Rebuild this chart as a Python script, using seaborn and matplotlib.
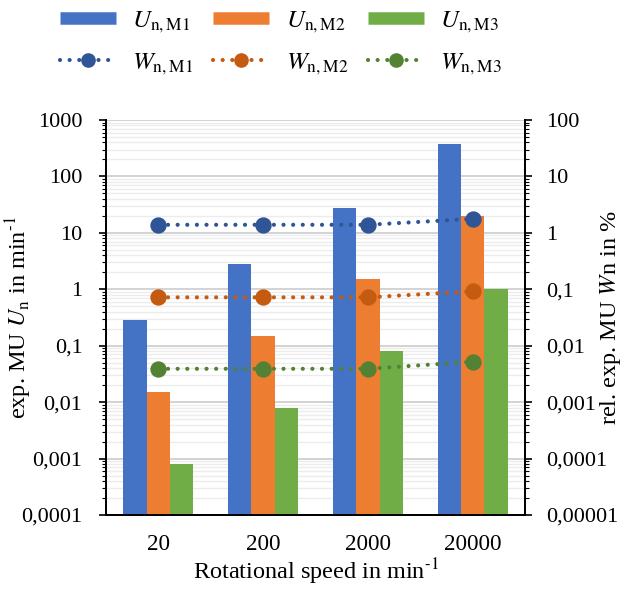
import numpy as np
import pandas as pd
import matplotlib
matplotlib.use("Agg")
import matplotlib.pyplot as plt
from matplotlib.ticker import LogLocator, FuncFormatter, NullFormatter
from matplotlib.lines import Line2D
import seaborn as sns

# ---- data ----
speeds = ["20", "200", "2000", "20000"]
U_M1 = [0.28, 2.8, 28, 370]
U_M2 = [0.015, 0.15, 1.5, 20]
U_M3 = [0.0008, 0.008, 0.08, 1.0]
W_M1 = [1.39, 1.39, 1.39, 1.77]
W_M2 = [0.072, 0.072, 0.072, 0.092]
W_M3 = [0.0039, 0.0039, 0.0039, 0.0052]
u_names = ["U1", "U2", "U3"]
w_names = ["W1", "W2", "W3"]
u_labels = [r"$U_{\mathrm{n,M1}}$", r"$U_{\mathrm{n,M2}}$", r"$U_{\mathrm{n,M3}}$"]
w_labels = [r"$W_{\mathrm{n,M1}}$", r"$W_{\mathrm{n,M2}}$", r"$W_{\mathrm{n,M3}}$"]
bar_colors = ["#4472C4", "#ED7D31", "#70AD47"]
line_colors = ["#2F5597", "#C55A11", "#548235"]

dfu = pd.DataFrame({
    "speed": speeds * 3,
    "value": U_M1 + U_M2 + U_M3,
    "series": sum([[n] * len(speeds) for n in u_names], []),
})
dfw = pd.DataFrame({
    "speed": speeds * 3,
    "value": W_M1 + W_M2 + W_M3,
    "series": sum([[n] * len(speeds) for n in w_names], []),
})

plt.rcParams["font.family"] = ["Liberation Serif", "DejaVu Serif"]
plt.rcParams["mathtext.fontset"] = "stix"

fig = plt.figure(figsize=(6.3, 5.89), dpi=100)
ax = fig.add_axes([106 / 630, 1 - 515 / 589, (525 - 106) / 630, (515 - 120) / 589])
ax.set_yscale("log")
sns.barplot(data=dfu, x="speed", y="value", hue="series", order=speeds,
            hue_order=u_names, palette=bar_colors, width=0.67, ax=ax,
            legend=False, saturation=1, edgecolor="none", linewidth=0)
ax.set_ylim(1e-4, 1e3)
ax.set_xlim(-0.5, len(speeds) - 0.5)

ax2 = ax.twinx()
ax2.set_yscale("log")
sns.pointplot(data=dfw, x="speed", y="value", hue="series", order=speeds,
              hue_order=w_names, palette=line_colors, markers="o",
              linestyles=":", ax=ax2, legend=False, markersize=9.5,
              linewidth=3, errorbar=None)
ax2.set_ylim(1e-5, 1e2)
ax2.set_xlim(-0.5, len(speeds) - 0.5)
dot_style = (0, (0.01, 2.3))
for ln in ax2.lines:
    ln.set_linestyle(dot_style)
    ln.set_dash_capstyle("round")


def fmt(v, pos=None):
    e = int(round(np.log10(v)))
    d = max(0, -e)
    return f"{v:.{d}f}".replace(".", ",")


for a in (ax, ax2):
    a.yaxis.set_major_locator(LogLocator(base=10, numticks=20))
    a.yaxis.set_minor_locator(LogLocator(base=10, subs=np.arange(2, 10), numticks=20))
    a.yaxis.set_major_formatter(FuncFormatter(fmt))
    a.yaxis.set_minor_formatter(NullFormatter())
    a.tick_params(axis="y", which="major", length=5, width=1.2, labelsize=16, color="black")
    a.tick_params(axis="y", which="minor", length=3, width=0.8, color="black")
    a.spines["top"].set_visible(False)
    for s in ("left", "right", "bottom"):
        a.spines[s].set_color("black")
        a.spines[s].set_linewidth(1.3)
    a.set_xlabel("")
    a.set_ylabel("")

ax.tick_params(axis="y", which="major", pad=12)
ax2.tick_params(axis="y", which="major", pad=10)

ax.grid(True, which="major", axis="y", color="#d0d0d0", linewidth=1.3)
ax.grid(True, which="minor", axis="y", color="#ececec", linewidth=1.0)
ax.set_axisbelow(True)
ax.tick_params(axis="x", length=0, labelsize=16.7, pad=14)
ax2.tick_params(axis="x", length=0)

ax.set_xlabel(r"Rotational speed in min$^{\text{-1}}$", fontsize=17.5)
ax.set_ylabel(r"exp. MU $U_{\mathrm{n}}$ in min$^{\text{-1}}$", fontsize=17.5)
ax2.set_ylabel(r"rel. exp. MU $W$n in %", fontsize=17.5)
ax.xaxis.set_label_coords(0.5, (515 - 557) / 395)
ax.yaxis.set_label_coords((34 - 106) / 419, 0.5)
ax2.yaxis.set_label_coords((598 - 106) / 419, 0.5)

handles, labels = [], []
for i in range(3):
    handles.append(Line2D([], [], color=bar_colors[i], linewidth=9, solid_capstyle="butt"))
    labels.append(u_labels[i])
    h = Line2D([], [], color=line_colors[i], linewidth=3, marker="o", markersize=9.5,
               linestyle=dot_style, dash_capstyle="round")
    handles.append(h)
    labels.append(w_labels[i])
fig.legend(handles, labels, ncol=3, loc="upper center", bbox_to_anchor=(0.446, 1.022),
           frameon=False, fontsize=18, handlelength=2.24, handletextpad=0.65,
           columnspacing=0.8, labelspacing=0.66)

fig.savefig("out.png", dpi=100)
